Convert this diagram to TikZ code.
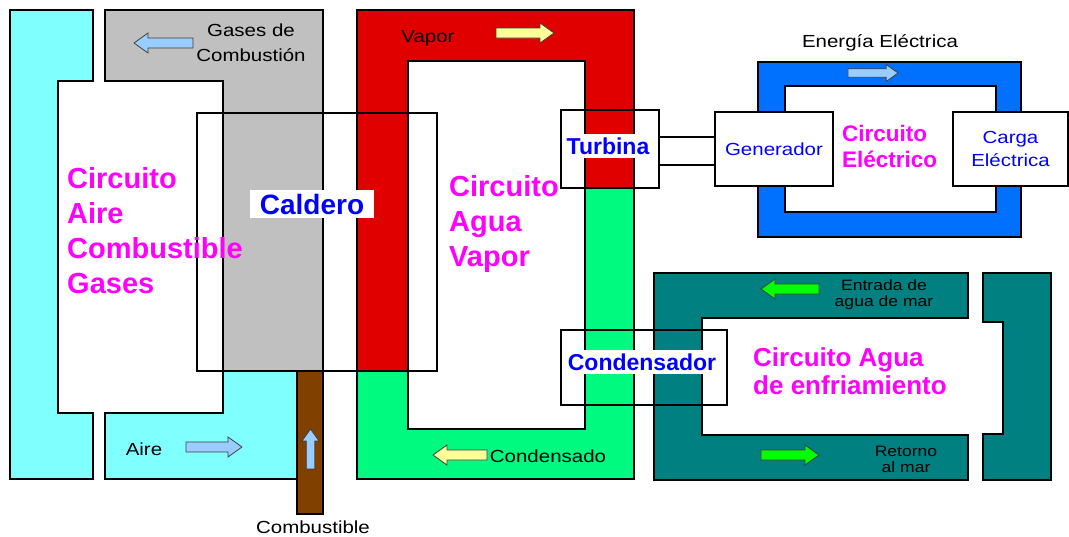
\documentclass[tikz,border=0pt]{standalone}
\usepackage{fontspec}
\setmainfont{Liberation Sans}
\newfontfamily\rotulofont{Liberation Sans}[FakeStretch=1.17]
\usepackage{tikz}

\definecolor{aire}{RGB}{128,255,255}
\definecolor{gases}{RGB}{192,192,192}
\definecolor{vapor}{RGB}{224,0,0}
\definecolor{condensado}{RGB}{0,250,128}
\definecolor{electrico}{RGB}{0,112,255}
\definecolor{mar}{RGB}{0,128,128}
\definecolor{comb}{RGB}{128,64,0}
\definecolor{flechaazul}{RGB}{153,204,255}
\definecolor{flechaamarilla}{RGB}{255,255,153}
\definecolor{flechaverde}{RGB}{0,255,0}
\definecolor{rosa}{RGB}{255,0,255}
\definecolor{azultexto}{RGB}{0,0,255}

\begin{document}
\begin{tikzpicture}[
      x=1pt, y=-1pt,
      borde/.style={draw=black, line width=1.5pt},
      caja/.style={draw=black, line width=1.5pt, inner sep=0pt},
      titulo/.style={text=rosa, font=\bfseries\fontsize{29}{35}\selectfont,
                     align=left, anchor=west, inner sep=0pt},
      componente/.style={text=azultexto, font=\bfseries\fontsize{23}{27}\selectfont,
                         fill=white, inner xsep=3pt, inner ysep=3.5pt},
      equipo/.style={caja, fill=white, text=azultexto, align=center,
                     font=\rotulofont\fontsize{17.5}{23}\selectfont},
      etiqueta/.style={font=\rotulofont\fontsize{17.5}{25}\selectfont,
                       align=center, inner sep=0pt},
      chica/.style={etiqueta, font=\rotulofont\fontsize{15}{16}\selectfont},
      bordeflecha/.style={draw=black!75, line width=0.8pt},
      pics/flecha/.style={code={
          \path[pic actions] (-#1/2,-5) -- (#1/2-14,-5) -- (#1/2-14,-10) -- (#1/2,0)
              -- (#1/2-14,10) -- (#1/2-14,5) -- (-#1/2,5) -- cycle;
      }}
  ]
      \useasboundingbox (0,0) rectangle (1069,536);
      \fill[white] (0,0) rectangle (1069,536);

      % Circuito aire - combustible - gases
      \filldraw[borde, fill=aire] (10,10) -- (93,10) -- (93,81) -- (58,81) -- (58,413)
          -- (93,413) -- (93,479) -- (10,479) -- cycle;
      \fill[gases] (105,10) -- (323,10) -- (323,371) -- (223,371) -- (223,81) -- (105,81) -- cycle;
      \fill[aire] (223,371) -- (297,371) -- (297,479) -- (105,479) -- (105,413) -- (223,413) -- cycle;
      \draw[borde] (105,10) -- (323,10) -- (323,371) -- (297,371) -- (297,479) -- (105,479)
          -- (105,413) -- (223,413) -- (223,81) -- (105,81) -- cycle;
      \filldraw[borde, fill=comb] (297,371) rectangle (323,514);

      % Circuito agua - vapor
      \fill[vapor] (357,10) -- (634,10) -- (634,188) -- (585,188) -- (585,61) -- (408,61)
          -- (408,371) -- (357,371) -- cycle;
      \fill[condensado] (357,371) -- (408,371) -- (408,429) -- (585,429) -- (585,188)
          -- (634,188) -- (634,479) -- (357,479) -- cycle;
      \draw[borde] (357,10) rectangle (634,479) (408,61) rectangle (585,429);

      % Circuito electrico
      \filldraw[borde, fill=electrico, even odd rule] (758,62) rectangle (1021,237)
          (785,86) rectangle (996,212);

      % Circuito agua de enfriamiento
      \filldraw[borde, fill=mar] (654,273) -- (968,273) -- (968,318) -- (702,318) -- (702,435)
          -- (968,435) -- (968,480) -- (654,480) -- cycle;
      \filldraw[borde, fill=mar] (983,273) -- (1051,273) -- (1051,480) -- (983,480) -- (983,434)
          -- (1003,434) -- (1003,322) -- (983,322) -- cycle;

      % Equipos
      \node[caja, minimum width=240, minimum height=258] (caldero) at (317,242) {};
      \node[caja, minimum width=98, minimum height=78] (turbina) at (610,149) {};
      \node[caja, minimum width=166, minimum height=75] (condensador) at (644,367.5) {};
      \node[equipo, minimum width=118, minimum height=74] (generador) at (774,149) {Generador};
      \node[equipo, minimum width=115, minimum height=74] (carga) at (1010.5,149) {Carga\\Eléctrica};

      % Eje turbina - generador
      \draw[line width=1.5pt] ([yshift=12pt]turbina.east) -- ([yshift=12pt]generador.west);
      \draw[line width=1.5pt] ([yshift=-16pt]turbina.east) -- ([yshift=-16pt]generador.west);

      \node[componente, font=\bfseries\fontsize{28}{32}\selectfont,
            inner xsep=10pt, inner ysep=4pt] (lcaldero) at (312,204) {Caldero};
      \node[componente] (lturbina) at (608,146) {Turbina};
      \node[componente] (lcondensador) at (642,362) {Condensador};

      % Titulos de los circuitos
      \node[titulo] (taire) at (67,231) {Circuito\\Aire\\Combustible\\Gases};
      \node[titulo] (tagua) at (449,224) {Circuito\\Agua\\Vapor};
      \node[titulo, font=\bfseries\fontsize{22.5}{26}\selectfont] (telec) at (842,146)
          {Circuito\\Eléctrico};
      \node[titulo, font=\bfseries\fontsize{26}{28}\selectfont] (tmar) at (753,371)
          {Circuito Agua\\de enfriamiento};

      % Rotulos de flujo
      \node[etiqueta] (lgases) at (251,43) {Gases de\\Combustión};
      \node[etiqueta, anchor=base] (lvapor) at (428,42) {Vapor};
      \node[etiqueta, anchor=base] (lcond) at (548,462) {Condensado};
      \node[etiqueta, anchor=base] (laire) at (144,455) {Aire};
      \node[etiqueta, anchor=base] (lcomb) at (313,533) {Combustible};
      \node[etiqueta, anchor=base] (lenergia) at (880,47) {Energía Eléctrica};
      \node[chica] (lentrada) at (884,295) {Entrada de\\agua de mar};
      \node[chica] (lretorno) at (906,459) {Retorno\\al mar};

      % Flechas de flujo
      \pic[bordeflecha, fill=flechaazul, rotate=180] at (163.5,43) {flecha=59};
      \pic[bordeflecha, fill=flechaazul] at (214,447) {flecha=56};
      \pic[bordeflecha, fill=flechaazul, rotate=90, scale=0.85] at (310.5,449) {flecha=47};
      \pic[bordeflecha, fill=flechaamarilla] at (525,33) {flecha=58};
      \pic[bordeflecha, fill=flechaamarilla, rotate=180] at (460,455) {flecha=54};
      \pic[bordeflecha, fill=flechaazul, scale=0.85] at (873,73) {flecha=59};
      \pic[bordeflecha, fill=flechaverde, rotate=180] at (790,289) {flecha=58};
      \pic[bordeflecha, fill=flechaverde] at (790,455) {flecha=58};
  \end{tikzpicture}
\end{document}
